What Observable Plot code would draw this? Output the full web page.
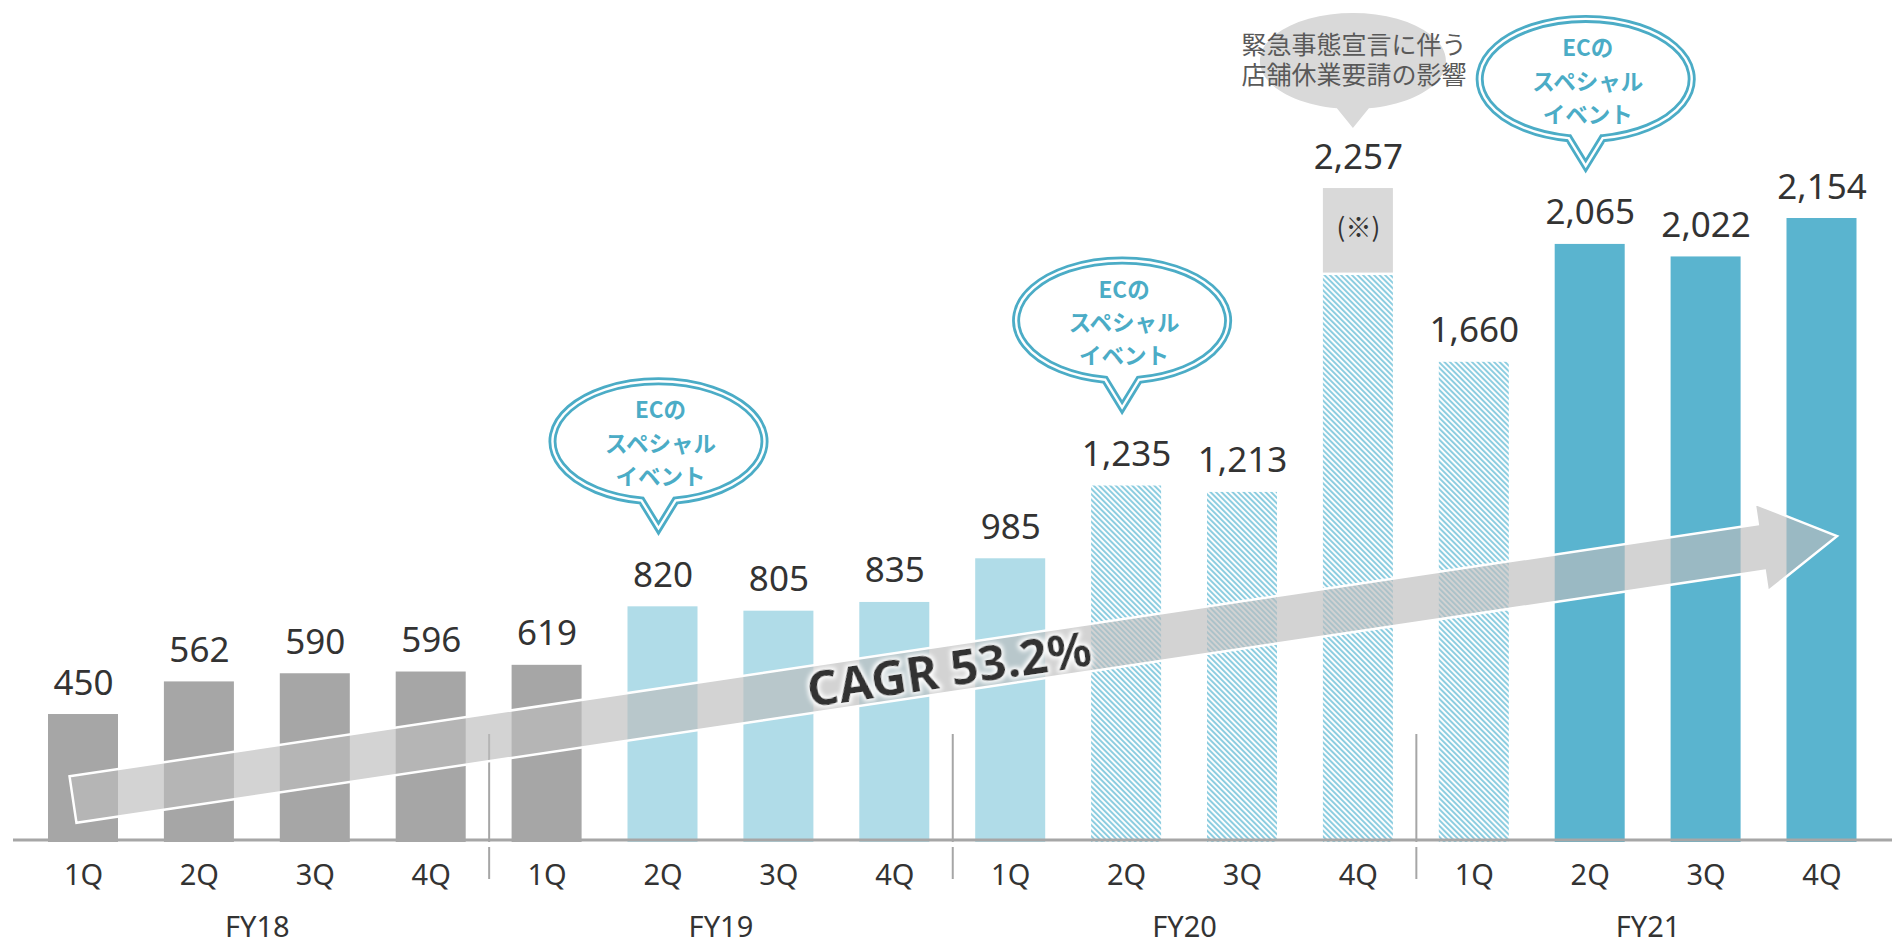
<!DOCTYPE html>
<html><head><meta charset="utf-8">
<script src="https://cdn.jsdelivr.net/npm/d3@7"></script>
<script src="https://cdn.jsdelivr.net/npm/@observablehq/plot@0.6"></script>
<style>
html,body{margin:0;padding:0;background:#fff;overflow:hidden;}
#chart svg{display:block;}
</style></head><body><div id="chart"></div>
<script>
// ---- data ----
const fiscalYears = ["FY18", "FY19", "FY20", "FY21"];
const quarters = ["1Q", "2Q", "3Q", "4Q"];
const sales = [450, 562, 590, 596, 619, 820, 805, 835, 985, 1235, 1213, 2257, 1660, 2065, 2022, 2154];
const barGroup = ["A","A","A","A","A","B","B","B","B","C","C","C","C","D","D","D"];
const closureQuarter = "FY20 4Q";
const closureBase = 1958;            // hatched part of FY20 4Q; the rest is the (※) effect
const closureNote = "(※)";
const closureText = ["緊急事態宣言に伴う", "店舗休業要請の影響"];
const ecEventQuarters = ["FY19 2Q", "FY20 2Q", "FY21 2Q"];
const ecEventText = ["ECの", "スペシャル", "イベント"];
const cagrLabel = "CAGR 53.2%";
const cagrFrom = ["FY18 1Q", 156];
const cagrTo = ["FY21 4Q", 1061];

// ---- table ----
const keys = fiscalYears.flatMap(fy => quarters.map(q => `${fy} ${q}`));
const table = keys.map((key, i) => ({
  key, value: sales[i], group: barGroup[i],
  bar: key === closureQuarter ? closureBase : sales[i]
}));
const fmt = d3.format(",");

const W = 1892, H = 945;
const xRange = [48, 1856.5], padIn = 0.396;
const step = (xRange[1] - xRange[0]) / (keys.length - padIn);
const SANS = "'Noto Sans', sans-serif";
const CJK = "'Noto Sans CJK JP', sans-serif";

const plot = Plot.plot({
  width: W, height: H,
  marginTop: 0, marginBottom: 100, marginLeft: 13, marginRight: 0,
  style: {fontFamily: SANS, background: "white", color: "#333"},
  x: {domain: keys, range: xRange, paddingInner: padIn, paddingOuter: 0, round: false},
  y: {domain: [0, 2903], axis: null},
  color: {domain: ["A", "B", "C", "D"], range: ["#a6a6a6", "#b0dce8", "url(#hatch)", "#5ab4cf"]},
  marks: [
    Plot.barY(table, {x: "key", y: "bar", fill: "group", insetBottom: 3}),
    Plot.barY(table.filter(d => d.key === closureQuarter),
      {x: "key", y1: d => d.bar, y2: "value", fill: "#d9d9d9", insetBottom: 2.5}),
    Plot.ruleY([0], {stroke: "#a6a6a6", strokeWidth: 3, dy: -5.5}),
    Plot.ruleX(fiscalYears.slice(1), {x: d => d + " 1Q", dx: -step / 2, stroke: "#a6a6a6", strokeWidth: 2, insetTop: 734, insetBottom: 3}),
    Plot.ruleX(fiscalYears.slice(1), {x: d => d + " 1Q", dx: -step / 2, stroke: "#a6a6a6", strokeWidth: 2, insetTop: 847, insetBottom: -34}),
    Plot.text(table, {x: "key", y: "value", text: d => fmt(d.value), lineAnchor: "bottom", dy: -20, fontSize: 35, fill: "#333"}),
    Plot.text(table.filter(d => d.key === closureQuarter),
      {x: "key", y: d => (d.bar + d.value) / 2, text: () => closureNote, fontSize: 26, fontFamily: CJK, fill: "#333", dy: -3}),
    Plot.axisX({tickSize: 0, tickPadding: 19, fontSize: 29, fill: "#333", tickFormat: d => d.split(" ")[1], label: null}),
    Plot.text(fiscalYears, {x: d => d + " 2Q", text: d => d, dx: step / 2, frameAnchor: "bottom", lineAnchor: "bottom", dy: 91, fontSize: 29, fill: "#333"})
  ]
});
document.getElementById("chart").appendChild(plot);

// ---- annotations through the plot's scales ----
const svg = d3.select(plot);
const sx = plot.scale("x"), sy = plot.scale("y");
const bw = sx.bandwidth;
const CX = k => sx.apply(k) + bw / 2;
const Y = v => sy.apply(v);

const defs = svg.insert("defs", ":first-child");
const pat = defs.append("pattern").attr("id", "hatch").attr("patternUnits", "userSpaceOnUse")
  .attr("width", 3.9).attr("height", 8).attr("patternTransform", "rotate(-45)");
pat.append("rect").attr("width", 3.9).attr("height", 8).attr("fill", "#fff");
pat.append("rect").attr("width", 2).attr("height", 8).attr("fill", "#8ccde0");
const glow = defs.append("filter").attr("id", "glow").attr("x", "-20%").attr("y", "-60%").attr("width", "140%").attr("height", "220%");
glow.append("feMorphology").attr("in", "SourceAlpha").attr("operator", "dilate").attr("radius", 1.5).attr("result", "d");
glow.append("feGaussianBlur").attr("in", "d").attr("stdDeviation", 2).attr("result", "b");
glow.append("feFlood").attr("flood-color", "#fff");
glow.append("feComposite").attr("in2", "b").attr("operator", "in").attr("result", "g");
const mg = glow.append("feMerge");
mg.append("feMergeNode").attr("in", "g");
mg.append("feMergeNode").attr("in", "SourceGraphic");

// CAGR arrow
const ax0 = CX(cagrFrom[0]) - 10, ay0 = Y(cagrFrom[1]);
const ax1 = CX(cagrTo[0]) + 15.5, ay1 = Y(cagrTo[1]);
const L = Math.hypot(ax1 - ax0, ay1 - ay0);
const deg = Math.atan2(ay1 - ay0, ax1 - ax0) * 180 / Math.PI;
const hl = 76.6, sw = 23.5, hw = 44.5;
const ag = svg.append("g").attr("transform", `translate(${ax0},${ay0}) rotate(${deg})`);
ag.append("path")
  .attr("d", `M0,${-sw}L${L - hl},${-sw}L${L - hl},${-hw}L${L},0L${L - hl},${hw}L${L - hl},${sw}L0,${sw}Z`)
  .attr("fill", "#bcbcbc").attr("fill-opacity", 0.66)
  .attr("stroke", "#fff").attr("stroke-width", 2.5).attr("stroke-linejoin", "miter");
ag.append("text").attr("x", L / 2 - 6).attr("y", 0).attr("dy", "0.36em")
  .attr("text-anchor", "middle").attr("font-family", SANS).attr("font-weight", 700)
  .attr("font-size", 49).attr("fill", "#333").attr("filter", "url(#glow)").text(cagrLabel);

// bubble path: ellipse with a V tail ending at (tx, ty)
function bubblePath(tx, ty, cx, cy, rx, ry, h) {
  const dy = ry * Math.sqrt(1 - (h / rx) ** 2);
  return `M${tx - h},${cy + dy}A${rx},${ry} 0 1 1 ${tx + h},${cy + dy}L${tx},${ty}Z`;
}

// EC special event bubbles
const byKey = new Map(table.map(d => [d.key, d]));
for (const q of ecEventQuarters) {
  const tx = CX(q) - 4;
  const ty = Y(byKey.get(q).value) - 78;
  const cy = ty - 87;
  const d = bubblePath(tx, ty, tx + 2, cy, 106, 60, 17);
  svg.append("path").attr("d", d).attr("fill", "#fff").attr("stroke", "#4bacc6").attr("stroke-width", 8).attr("stroke-linejoin", "miter").attr("stroke-miterlimit", 10);
  svg.append("path").attr("d", d).attr("fill", "none").attr("stroke", "#fff").attr("stroke-width", 2.4).attr("stroke-linejoin", "miter").attr("stroke-miterlimit", 10);
  const t = svg.append("text").attr("text-anchor", "middle").attr("font-family", CJK).attr("font-weight", 700)
    .attr("font-size", 22.5).attr("fill", "#4bacc6");
  const offs = [-31, 2.5, 35.5];
  ecEventText.forEach((s, i) => {
    t.append("tspan").attr("x", tx + 2).attr("y", cy + offs[i]).attr("dy", "0.36em").text(s);
  });
}

// store closure bubble
{
  const tx = CX(closureQuarter) - 5;
  const ty = Y(byKey.get(closureQuarter).value) - 60;
  const cy = ty - 67;
  svg.append("path").attr("d", bubblePath(tx, ty, tx + 3, cy, 93, 48, 16)).attr("fill", "#d9d9d9");
  const t = svg.append("text").attr("text-anchor", "middle").attr("font-family", CJK)
    .attr("font-size", 25).attr("fill", "#595959");
  const offs = [-83, -53];
  closureText.forEach((s, i) => {
    t.append("tspan").attr("x", tx + 1).attr("y", ty + offs[i]).attr("dy", "0.36em").text(s);
  });
}
</script></body></html>
